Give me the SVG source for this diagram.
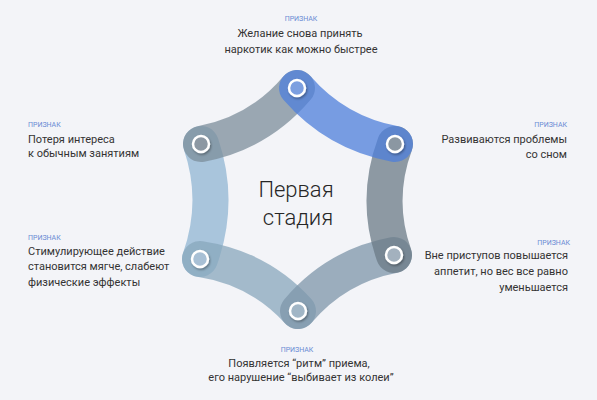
<svg xmlns="http://www.w3.org/2000/svg" width="597" height="400" viewBox="0 0 597 400">
<defs>
<style>
.band{fill:none;stroke-width:36;stroke-linecap:round;opacity:0.75}
.lbl{font-family:Roboto,"Noto Sans",sans-serif;font-size:7px;fill:#6a8bd4}
.txt{font-family:Roboto,"Noto Sans",sans-serif;font-size:11px;fill:#333}
.ttl{font-family:Roboto,"Noto Sans",sans-serif;font-weight:300;font-size:22px;fill:#262626}
.dot{stroke:#fff;stroke-width:2.5}
</style>
<filter id="sh" x="-50%" y="-50%" width="200%" height="200%">
<feDropShadow dx="1" dy="1.5" stdDeviation="1.2" flood-color="#000" flood-opacity="0.35"/>
</filter>
</defs>
<rect width="597" height="400" fill="#f3f4f8"/>
<g id="connectors">
<path class="band" stroke="#90b5d3" d="M200,259 Q220.5,201.5 201,144"/>
<path class="band" stroke="#88a7bc" d="M298,311 Q259,268 200,259"/>
<path class="band" stroke="#7c8d9b" d="M201,144 Q259,133 297,88"/>
<path class="band" stroke="#7e95a9" d="M394,255 Q336,266 298,311"/>
<path class="band" stroke="#6b7b87" d="M395,144 Q374.5,199.5 394,255"/>
<path class="band" stroke="#4d7fdb" d="M297,88 Q336,133 395,144"/>
</g>
<g id="n1"><circle class="dot" cx="297" cy="88" r="8" fill="#7c9fe0" filter="url(#sh)"/>
<text class="lbl" x="301" y="21" text-anchor="middle">ПРИЗНАК</text>
<text class="txt" x="300" y="37" text-anchor="middle">Желание снова принять</text>
<text class="txt" x="301" y="53" text-anchor="middle">наркотик как можно быстрее</text></g>
<g id="n2"><circle class="dot" cx="395" cy="144" r="8" fill="#8b97a2" filter="url(#sh)"/>
<text class="lbl" x="567" y="127" text-anchor="end">ПРИЗНАК</text>
<text class="txt" x="567" y="143" text-anchor="end">Развиваются проблемы</text>
<text class="txt" x="567" y="157.5" text-anchor="end">со сном</text></g>
<g id="n3"><circle class="dot" cx="394" cy="255" r="8" fill="#a3b1be" filter="url(#sh)"/>
<text class="lbl" x="570" y="245" text-anchor="end">ПРИЗНАК</text>
<text class="txt" x="568" y="259" text-anchor="end">Вне приступов повышается</text>
<text class="txt" x="568" y="275" text-anchor="end">аппетит, но вес все равно</text>
<text class="txt" x="568" y="291" text-anchor="end">уменьшается</text></g>
<g id="n4"><circle class="dot" cx="298" cy="311" r="8" fill="#a1b6c6" filter="url(#sh)"/>
<text class="lbl" x="297" y="352" text-anchor="middle">ПРИЗНАК</text>
<text class="txt" x="299" y="367" text-anchor="middle">Появляется “ритм” приема,</text>
<text class="txt" x="301" y="381" text-anchor="middle">его нарушение “выбивает из колеи”</text></g>
<g id="n5"><circle class="dot" cx="200" cy="259" r="8" fill="#a8c0d5" filter="url(#sh)"/>
<text class="lbl" x="28" y="240">ПРИЗНАК</text>
<text class="txt" x="28" y="254.5">Стимулирующее действие</text>
<text class="txt" x="28" y="270">становится мягче, слабеют</text>
<text class="txt" x="28" y="285.5">физические эффекты</text></g>
<g id="n6"><circle class="dot" cx="201" cy="144" r="8" fill="#8c98a3" filter="url(#sh)"/>
<text class="lbl" x="28" y="127">ПРИЗНАК</text>
<text class="txt" x="28" y="142.5">Потеря интереса</text>
<text class="txt" x="28" y="157">к обычным занятиям</text></g>
<g id="center">
<text class="ttl" x="296" y="196.5" text-anchor="middle">Первая</text>
<text class="ttl" x="298" y="225" text-anchor="middle">стадия</text></g>
</svg>
